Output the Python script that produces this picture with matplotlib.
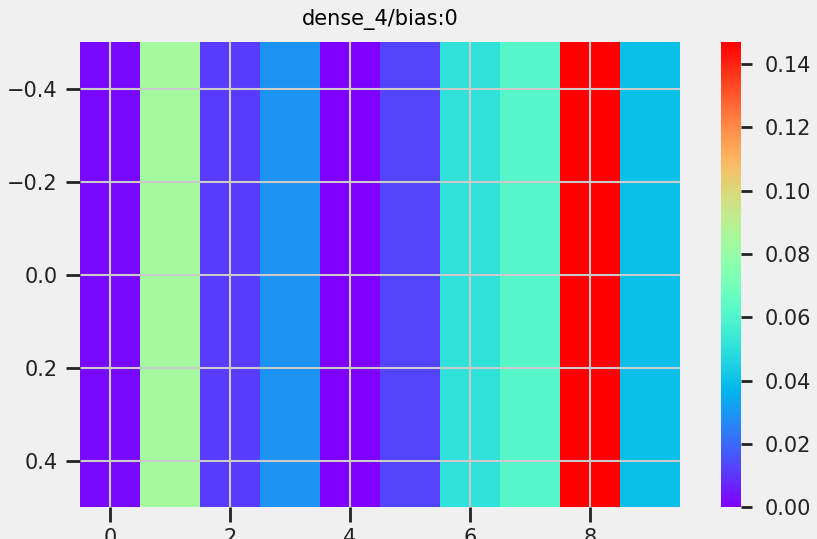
import numpy as np
import matplotlib
matplotlib.use("Agg")
import matplotlib.pyplot as plt
from matplotlib.ticker import FormatStrFormatter

# bias values of the dense_4 layer (one row, 10 units)
layer_name = "dense_4/bias:0"
bias = [0.002, 0.084, 0.011, 0.029, 0.0, 0.013, 0.051, 0.062, 0.147, 0.040]

x_ticks = [0, 2, 4, 6, 8]
y_ticks = [-0.4, -0.2, 0.0, 0.2, 0.4]
cbar_ticks = [0.00, 0.02, 0.04, 0.06, 0.08, 0.10, 0.12, 0.14]

bg = "#f0f0f0"
plt.rcParams.update({
    "font.family": "DejaVu Sans",
    "font.size": 15,
    "figure.facecolor": bg,
    "axes.facecolor": bg,
    "axes.edgecolor": bg,
    "grid.color": "#cbcbcb",
    "grid.linewidth": 1.5,
    "xtick.major.width": 2,
    "ytick.major.width": 2,
    "xtick.color": "#222222",
    "ytick.color": "#222222",
    "xtick.labelsize": 15,
    "ytick.labelsize": 15,
})

fig = plt.figure(figsize=(8.17, 5.39), dpi=100)
ax = fig.add_axes([0.098, 0.059, 0.734, 0.863])
cax = fig.add_axes([0.882, 0.059, 0.025, 0.863])

data = np.array(bias).reshape(1, -1)
im = ax.imshow(data, cmap="rainbow", aspect="auto")
ax.set_title(layer_name, fontsize=15, pad=12)
ax.set_xticks(x_ticks)
ax.set_yticks(y_ticks)
ax.tick_params(axis="x", length=11, pad=4)
ax.tick_params(axis="y", length=10, pad=6)
ax.grid(True)
for s in ax.spines.values():
    s.set_visible(False)

cb = fig.colorbar(im, cax=cax, ticks=cbar_ticks)
cb.outline.set_visible(False)
cb.ax.tick_params(length=8, width=2, pad=9)
cb.ax.yaxis.set_major_formatter(FormatStrFormatter("%.2f"))

fig.savefig("out.png", dpi=100, facecolor=bg)
